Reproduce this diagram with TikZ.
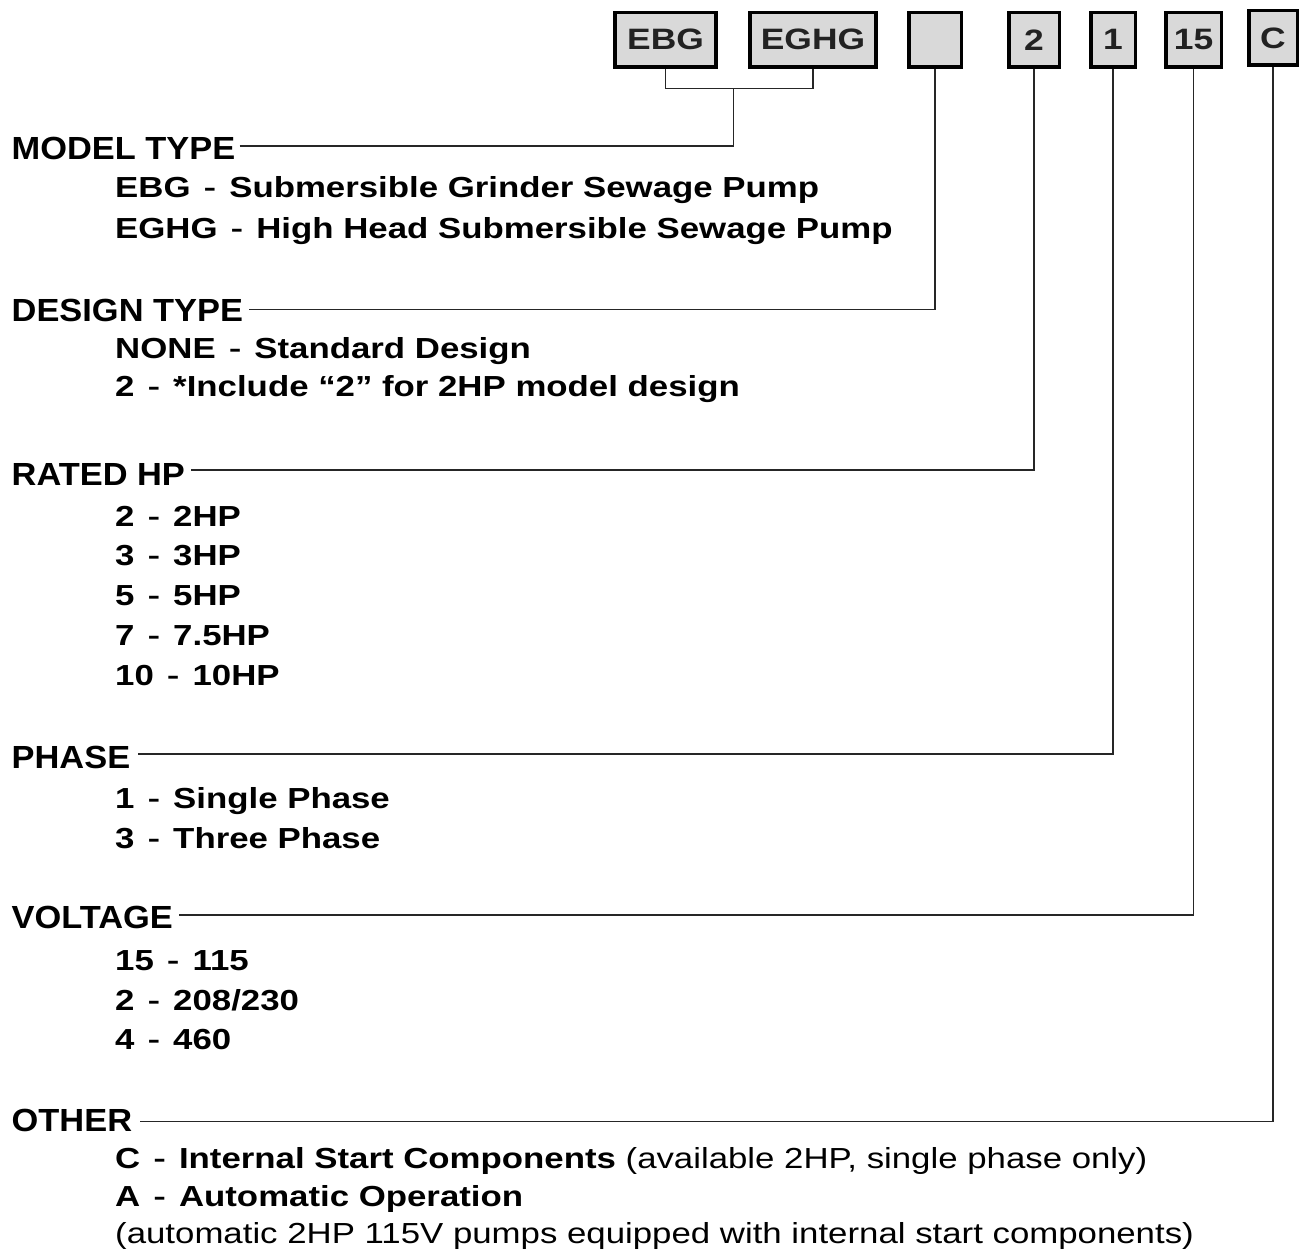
\documentclass[tikz,border=0pt]{standalone}
\usepackage{fontspec}
\newfontfamily\subf[FakeStretch=1.2]{Liberation Sans}
\newfontfamily\hdrf[FakeStretch=1.075]{Liberation Sans}
\definecolor{boxgray}{HTML}{D9D9D9}
\definecolor{inkgray}{HTML}{222222}
\newcommand\dsh{\makebox[\fontcharwd\font"2013][c]{\scalebox{0.55}[1]{\char"2013}}}
\tikzset{
  hdr/.style={anchor=base west, inner sep=0pt, font=\hdrf\bfseries\fontsize{32}{38}\selectfont},
  item/.style={anchor=base west, inner sep=0pt, font=\subf\bfseries\fontsize{29}{35}\selectfont},
  codebox/.style={draw=black, line width=3.5pt, fill=boxgray, text=inkgray,
    font=\subf\bfseries\fontsize{29.5}{35}\selectfont, minimum height=54.5pt, inner sep=0pt},
  conn/.style={draw=black!85, line width=1.5pt},
}
\begin{document}
\begin{tikzpicture}[x=1pt,y=-1pt]
\useasboundingbox (0,0) rectangle (1302,1260);

% code boxes
\node[codebox, minimum width=101pt] (ebg)  at (665.5,39.8)  {EBG};
\node[codebox, minimum width=126pt] (eghg) at (813,39.8)    {EGHG};
\node[codebox, minimum width=52.5pt](des)  at (935,39.8)    {};
\node[codebox, minimum width=50.5pt](hp)   at (1034,39.8)   {2};
\node[codebox, minimum width=44.5pt](ph)   at (1113,39.8)   {1};
\node[codebox, minimum width=55.5pt](volt) at (1193.5,39.8) {15};
\node[codebox, minimum width=48.5pt](oth)  at (1273,38)     {C};

% headers
\node[hdr] (h1) at (11.5,160)    {MODEL TYPE};
\node[hdr] (h2) at (11.5,321.7)  {DESIGN TYPE};
\node[hdr] (h3) at (11.5,485.7)  {RATED HP};
\node[hdr] (h4) at (11.5,768.3)  {PHASE};
\node[hdr] (h5) at (11.5,928.3)  {VOLTAGE};
\node[hdr] (h6) at (11.5,1131.7) {OTHER};

% items
\node[item] (m1) at (115,197.3) {EBG \dsh{} Submersible Grinder Sewage Pump};
\node[item] (m2) at (115,238.3) {EGHG \dsh{} High Head Submersible Sewage Pump};
\node[item] (d1) at (115,358.3) {NONE \dsh{} Standard Design};
\node[item] (d2) at (115,396.7) {2 \dsh{} *Include “2” for 2HP model design};
\node[item] (r1) at (115,526.7) {2 \dsh{} 2HP};
\node[item] (r2) at (115,565)   {3 \dsh{} 3HP};
\node[item] (r3) at (115,605.7) {5 \dsh{} 5HP};
\node[item] (r4) at (115,645)   {7 \dsh{} 7.5HP};
\node[item] (r5) at (115,685)   {10 \dsh{} 10HP};
\node[item] (p1) at (115,808.3) {1 \dsh{} Single Phase};
\node[item] (p2) at (115,848.3) {3 \dsh{} Three Phase};
\node[item] (v1) at (115,970.7) {15 \dsh{} 115};
\node[item] (v2) at (115,1010)  {2 \dsh{} 208/230};
\node[item] (v3) at (115,1049.3){4 \dsh{} 460};
\node[item] (o1) at (115,1168.3){C \dsh{} Internal Start Components {\mdseries(available 2HP, single phase only)}};
\node[item] (o2) at (115,1206.7){A \dsh{} Automatic Operation};
\node[item] (o3) at (115,1243.3){\mdseries(automatic 2HP 115V pumps equipped with internal start components)};

% bracket for model type
\coordinate (bj) at (733.5,88.3);
\draw[conn] (ebg.south) -- (ebg.south |- bj) -- (eghg.south |- bj) -- (eghg.south);
\draw[conn] (h1.base east) ++(4,-14) -| (bj);

% leader lines
\draw[conn] (h2.base east) ++(6,-12.4) -| (des.south);
\draw[conn] (h3.base east) ++(6,-15.7) -| (hp.south);
\draw[conn] (h4.base east) ++(8,-14.3) -| (ph.south);
\draw[conn] (h5.base east) ++(6,-13.3) -| (volt.south);
\draw[conn] (h6.base east) ++(8,-10)   -| (oth.south);
\end{tikzpicture}
\end{document}
